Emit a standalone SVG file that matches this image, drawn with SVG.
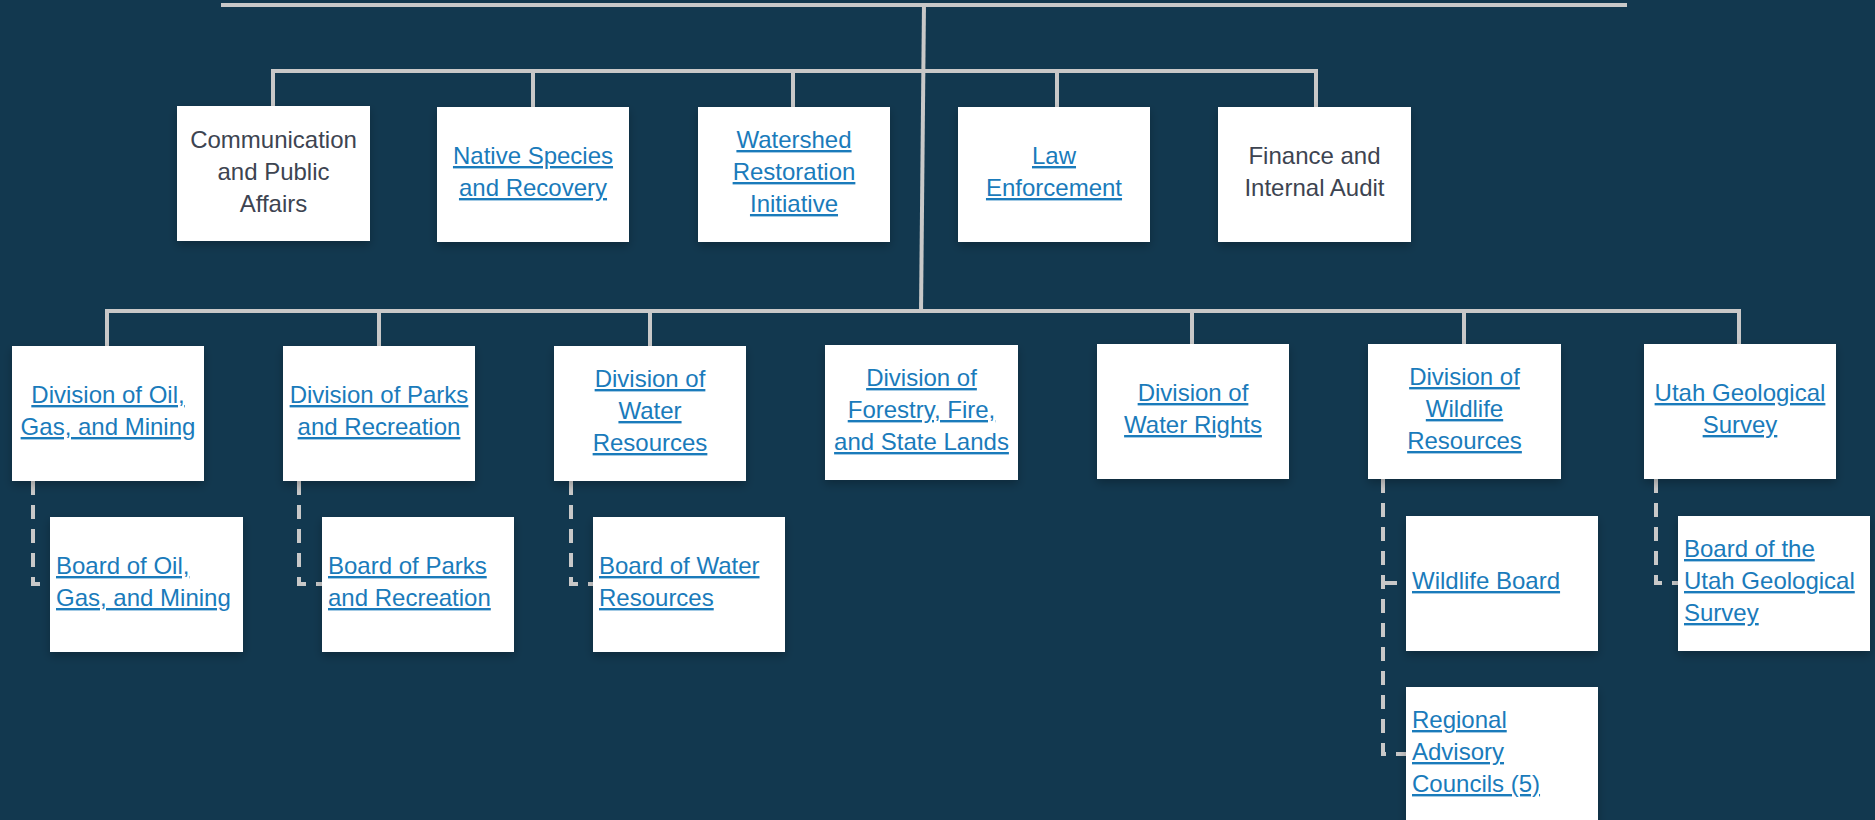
<svg xmlns="http://www.w3.org/2000/svg" width="1875" height="820" viewBox="0 0 1875 820">
<style>
.box{fill:#ffffff;filter:url(#sh)}
.t{font-family:"Liberation Sans",Arial,sans-serif;font-size:24px}
.c{text-anchor:middle}
.plain{fill:#3d4451}
.link{fill:#1a7bbb;text-decoration:underline}
.solid{fill:none;stroke:#c8c8c8;stroke-width:4}
.dash{fill:none;stroke:#c8c8c8;stroke-width:4;stroke-dasharray:14 10}
</style>
<defs>
<filter id="sh" x="-20%" y="-20%" width="140%" height="140%">
<feDropShadow dx="0" dy="4" stdDeviation="5" flood-color="#000000" flood-opacity="0.25"/>
</filter>
</defs>
<rect width="1875" height="820" fill="#12384f"/>
<g id="connectors">
<path class="solid" d="M221,5 H1627"/>
<path class="solid" d="M924,3 L921,313"/>
<path class="solid" d="M273,107 V71 H1316 V107"/>
<path class="solid" d="M533,71 V107 M793,71 V107 M1057,71 V107"/>
<path class="solid" d="M107,346 V311 H1739 V344"/>
<path class="solid" d="M379,311 V346 M650,311 V346 M1192,311 V344 M1464,311 V344"/>
<path class="dash" d="M33,481 V584 H50"/>
<path class="dash" d="M299,481 V584 H322"/>
<path class="dash" d="M571,481 V584 H593"/>
<path class="dash" d="M1383,479 V754 H1406"/>
<path class="dash" d="M1383,583 H1406"/>
<path class="dash" d="M1656,479 V583 H1678"/>
</g>
<g id="comm">
<rect class="box" x="177" y="106" width="193" height="135"/>
<text class="t c plain" x="273.5" y="148">Communication</text>
<text class="t c plain" x="273.5" y="180">and Public</text>
<text class="t c plain" x="273.5" y="212">Affairs</text>
</g>
<g id="native">
<rect class="box" x="437" y="107" width="192" height="135"/>
<text class="t c link" x="533" y="164">Native Species</text>
<text class="t c link" x="533" y="196">and Recovery</text>
</g>
<g id="watershed">
<rect class="box" x="698" y="107" width="192" height="135"/>
<text class="t c link" x="794" y="148">Watershed</text>
<text class="t c link" x="794" y="180">Restoration</text>
<text class="t c link" x="794" y="212">Initiative</text>
</g>
<g id="law">
<rect class="box" x="958" y="107" width="192" height="135"/>
<text class="t c link" x="1054" y="164">Law</text>
<text class="t c link" x="1054" y="196">Enforcement</text>
</g>
<g id="finance">
<rect class="box" x="1218" y="107" width="193" height="135"/>
<text class="t c plain" x="1314.5" y="164">Finance and</text>
<text class="t c plain" x="1314.5" y="196">Internal Audit</text>
</g>
<g id="oilgas">
<rect class="box" x="12" y="346" width="192" height="135"/>
<text class="t c link" x="108" y="403">Division of Oil,</text>
<text class="t c link" x="108" y="435">Gas, and Mining</text>
</g>
<g id="parks">
<rect class="box" x="283" y="346" width="192" height="135"/>
<text class="t c link" x="379" y="403">Division of Parks</text>
<text class="t c link" x="379" y="435">and Recreation</text>
</g>
<g id="water">
<rect class="box" x="554" y="346" width="192" height="135"/>
<text class="t c link" x="650" y="387">Division of</text>
<text class="t c link" x="650" y="419">Water</text>
<text class="t c link" x="650" y="451">Resources</text>
</g>
<g id="forestry">
<rect class="box" x="825" y="345" width="193" height="135"/>
<text class="t c link" x="921.5" y="386">Division of</text>
<text class="t c link" x="921.5" y="418">Forestry, Fire,</text>
<text class="t c link" x="921.5" y="450">and State Lands</text>
</g>
<g id="waterrights">
<rect class="box" x="1097" y="344" width="192" height="135"/>
<text class="t c link" x="1193" y="401">Division of</text>
<text class="t c link" x="1193" y="433">Water Rights</text>
</g>
<g id="wildlife">
<rect class="box" x="1368" y="344" width="193" height="135"/>
<text class="t c link" x="1464.5" y="385">Division of</text>
<text class="t c link" x="1464.5" y="417">Wildlife</text>
<text class="t c link" x="1464.5" y="449">Resources</text>
</g>
<g id="ugs">
<rect class="box" x="1644" y="344" width="192" height="135"/>
<text class="t c link" x="1740" y="401">Utah Geological</text>
<text class="t c link" x="1740" y="433">Survey</text>
</g>
<g id="board-oilgas">
<rect class="box" x="50" y="517" width="193" height="135"/>
<text class="t link" x="56" y="574">Board of Oil,</text>
<text class="t link" x="56" y="606">Gas, and Mining</text>
</g>
<g id="board-parks">
<rect class="box" x="322" y="517" width="192" height="135"/>
<text class="t link" x="328" y="574">Board of Parks</text>
<text class="t link" x="328" y="606">and Recreation</text>
</g>
<g id="board-water">
<rect class="box" x="593" y="517" width="192" height="135"/>
<text class="t link" x="599" y="574">Board of Water</text>
<text class="t link" x="599" y="606">Resources</text>
</g>
<g id="wildlife-board">
<rect class="box" x="1406" y="516" width="192" height="135"/>
<text class="t link" x="1412" y="589">Wildlife Board</text>
</g>
<g id="regional">
<rect class="box" x="1406" y="687" width="192" height="135"/>
<text class="t link" x="1412" y="728">Regional</text>
<text class="t link" x="1412" y="760">Advisory</text>
<text class="t link" x="1412" y="792">Councils (5)</text>
</g>
<g id="board-ugs">
<rect class="box" x="1678" y="516" width="192" height="135"/>
<text class="t link" x="1684" y="557">Board of the</text>
<text class="t link" x="1684" y="589">Utah Geological</text>
<text class="t link" x="1684" y="621">Survey</text>
</g>
</svg>
